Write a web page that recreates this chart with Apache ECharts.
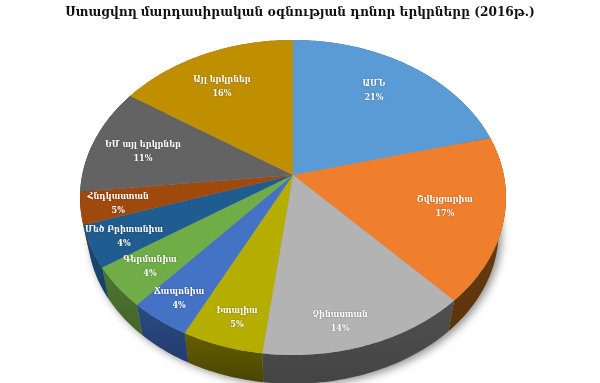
<!DOCTYPE html>
<html>
<head>
<meta charset="utf-8">
<style>
  html, body { margin: 0; padding: 0; background: #fff; }
  #chart { width: 600px; height: 383px; }
</style>
<script src="https://cdn.jsdelivr.net/npm/echarts@6/dist/echarts.min.js"></script>
</head>
<body>
<div id="chart"></div>
<script>
const titleText = 'Ստացվող մարդասիրական օգնության դոնոր երկրները (2016թ.)';
const countries = ['ԱՄՆ', 'Շվեյցարիա', 'Չինաստան', 'Իտալիա', 'Ճապոնիա', 'Գերմանիա', 'Մեծ Բրիտանիա', 'Հնդկաստան', 'ԵՄ այլ երկրներ', 'Այլ երկրներ'];
// share of the circle each slice takes in the picture
const shares = [21, 17, 14, 5.4, 4.1, 4.2, 4.3, 3.3, 11, 15.7];
// percentages as printed on the slices
const printedPercent = [21, 17, 14, 5, 4, 4, 4, 5, 11, 16];

const topColors = ['#5b9bd5', '#f07f2d', '#b3b3b3', '#b5ad00', '#4472c4', '#70ad47', '#1f5c8f', '#a0490d', '#636363', '#c08f00'];
const sideTop = ['#35608a', '#70400f', '#505050', '#635e00', '#2b4a85', '#4d7531', '#1a4c78', '#6a300a', '#444444', '#7a5c00'];
const sideBottom = ['#2a4c6e', '#5c340c', '#444444', '#4a4600', '#233c6c', '#426629', '#163f63', '#582808', '#383838', '#644b00'];

// label anchor per slice: angle clockwise from 12 o'clock, radius as a part of the disk
const labelAngle = [35.2, 106, 166.8, 196, 213.9, 228.7, 243.4, 257.2, 281.8, 329.4];
const labelRadius = [0.722, 0.728, 0.862, 0.851, 0.869, 0.832, 0.848, 0.828, 0.743, 0.721];

// tilted disk, projected with a little perspective
const centerX = 293;
const centerY = 175;
const radiusX = 210.8;
const radiusY = 154.3;
const tilt = 0.1429;
const depth = 35;
const baseScale = 0.965;

const total = shares.reduce((a, b) => a + b, 0);
const startAngles = [];
shares.reduce((sum, v, i) => {
  startAngles[i] = (sum / total) * 360;
  return sum + v;
}, 0);

const project = (deg, r, base) => {
  const rad = (deg * Math.PI) / 180;
  const u = r * Math.sin(rad);
  const v = r * Math.cos(rad);
  const w = 1 + tilt * v;
  const s = base ? baseScale : 1;
  return [
    centerX + (s * radiusX * u) / w,
    centerY - (s * radiusY * v) / w + (base ? depth : 0),
  ];
};

const arcPoints = (from, to, base) => {
  const pts = [];
  const steps = Math.max(2, Math.ceil(to - from));
  for (let i = 0; i <= steps; i += 1) {
    pts.push(project(from + ((to - from) * i) / steps, 1, base));
  }
  return pts;
};

const sliceRange = (i) => {
  const from = startAngles[i];
  return [from, from + (shares[i] / total) * 360];
};

const chart = echarts.init(document.getElementById('chart'));

chart.setOption({
  animation: false,
  title: {
    text: titleText,
    left: 'center',
    top: 0,
    textStyle: {
      fontFamily: '"DejaVu Serif Condensed", "DejaVu Serif"',
      fontWeight: 'bold',
      fontSize: 13.5,
      color: '#111',
    },
  },
  series: [
    {
      // soft shadow under the whole pie
      type: 'custom',
      coordinateSystem: 'none',
      silent: true,
      data: [0],
      z: 1,
      renderItem() {
        return {
          type: 'polygon',
          shape: { points: arcPoints(0, 360, true) },
          style: {
            fill: '#999',
            shadowBlur: 9,
            shadowColor: 'rgba(0,0,0,0.45)',
            shadowOffsetX: 3,
            shadowOffsetY: 2,
          },
        };
      },
    },
    {
      // rim of the pie
      type: 'custom',
      coordinateSystem: 'none',
      silent: true,
      data: shares,
      z: 2,
      renderItem(params) {
        const i = params.dataIndex;
        const [from, to] = sliceRange(i);
        const points = arcPoints(from, to, false).concat(arcPoints(from, to, true).reverse());
        return {
          type: 'polygon',
          shape: { points },
          style: {
            fill: new echarts.graphic.LinearGradient(0, 0, 0, 1, [
              { offset: 0, color: sideTop[i] },
              { offset: 1, color: sideBottom[i] },
            ]),
          },
        };
      },
    },
    {
      // top face
      type: 'custom',
      coordinateSystem: 'none',
      silent: true,
      data: shares,
      z: 3,
      renderItem(params) {
        const i = params.dataIndex;
        const [from, to] = sliceRange(i);
        return {
          type: 'polygon',
          shape: { points: [[centerX, centerY]].concat(arcPoints(from, to, false)) },
          style: { fill: topColors[i] },
        };
      },
    },
    {
      type: 'custom',
      coordinateSystem: 'none',
      silent: true,
      data: countries,
      z: 4,
      renderItem(params) {
        const i = params.dataIndex;
        const [x, y] = project(labelAngle[i], labelRadius[i], false);
        return {
          type: 'text',
          x,
          y,
          style: {
            text: `${countries[i]}\n${printedPercent[i]}%`,
            fill: '#fff',
            font: 'bold 9px "DejaVu Serif Condensed", "DejaVu Serif"',
            lineHeight: 14,
            align: 'center',
            verticalAlign: 'middle',
            textShadowColor: 'rgba(0,0,0,0.35)',
            textShadowBlur: 2,
          },
        };
      },
    },
  ],
});
</script>
</body>
</html>
